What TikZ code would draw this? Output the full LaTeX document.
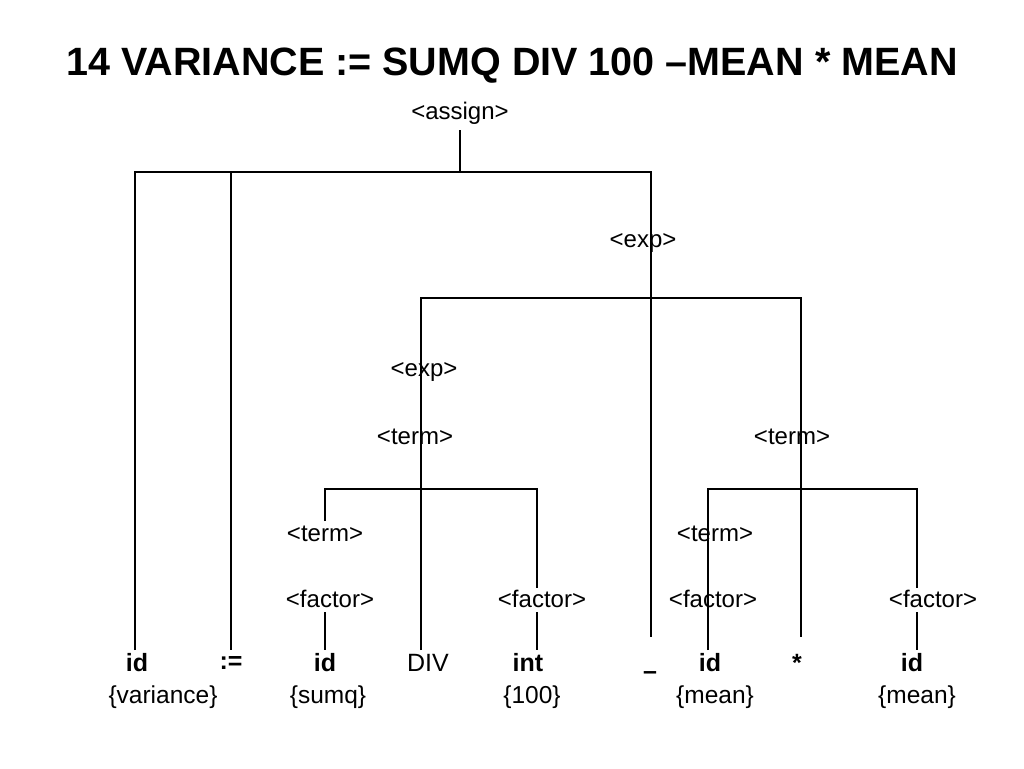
\documentclass[tikz,border=0pt]{standalone}
\usepackage{fontspec}
\setmainfont{Liberation Sans}
\begin{document}
\begin{tikzpicture}[x=1pt,y=-1pt,
  lab/.style={font=\fontsize{24}{28}\selectfont,inner sep=1pt},
  leaf/.style={font=\fontsize{25}{28}\selectfont\bfseries,inner sep=1pt},
  val/.style={font=\fontsize{24.5}{28}\selectfont,inner sep=1pt},
  ln/.style={line width=1.1pt}]
\useasboundingbox (0,0) rectangle (1024,768);
\node[font=\fontsize{39.5}{44}\selectfont\bfseries] (title) at (512,66) {14 VARIANCE := SUMQ DIV 100 --MEAN * MEAN};
\node[lab] (assign) at (460,113) {<assign>};
\node[lab] (exp1) at (643,243) {<exp>};
\node[lab] (exp2) at (424,372) {<exp>};
\node[lab] (term1) at (415,437) {<term>};
\node[lab] (term2) at (792,437) {<term>};
\node[lab] (term3) at (325,534) {<term>};
\node[lab] (fac1) at (330,599) {<factor>};
\node[lab] (fac2) at (542,599) {<factor>};
\node[lab] (term4) at (715,534) {<term>};
\node[lab] (fac3) at (713,599) {<factor>};
\node[lab] (fac4) at (933,599) {<factor>};
\node[leaf] (l1) at (137,663) {id};
\node[leaf] (l2) at (231,663) {:=};
\node[leaf] (l3) at (325,663) {id};
\node[val,font=\fontsize{25}{28}\selectfont] (l4) at (428,663) {DIV};
\node[leaf] (l5) at (528,663) {int};
\node[leaf] (l6) at (650,676) {--};
\node[leaf] (l7) at (710,663) {id};
\node[leaf] (l8) at (797,663) {*};
\node[leaf] (l9) at (912,663) {id};
\node[val] (v1) at (163,697) {\{variance\}};
\node[val] (v3) at (328,697) {\{sumq\}};
\node[val] (v5) at (532,697) {\{100\}};
\node[val] (v7) at (715,697) {\{mean\}};
\node[val] (v9) at (917,697) {\{mean\}};
% assign
\draw[ln] (460,130) -- (460,172);
\draw[ln] (135,650) -- (135,172) -- (651,172) -- (651,637);
\draw[ln] (231,172) -- (231,650);
% exp
\draw[ln] (421,650) -- (421,298) -- (801,298) -- (801,637);
% left term
\draw[ln] (325,521) -- (325,489) -- (537,489) -- (537,588);
\draw[ln] (325,612) -- (325,650);
\draw[ln] (537,612) -- (537,650);
% right term
\draw[ln] (708,650) -- (708,489) -- (917,489) -- (917,588);
\draw[ln] (917,612) -- (917,650);
\end{tikzpicture}
\end{document}
